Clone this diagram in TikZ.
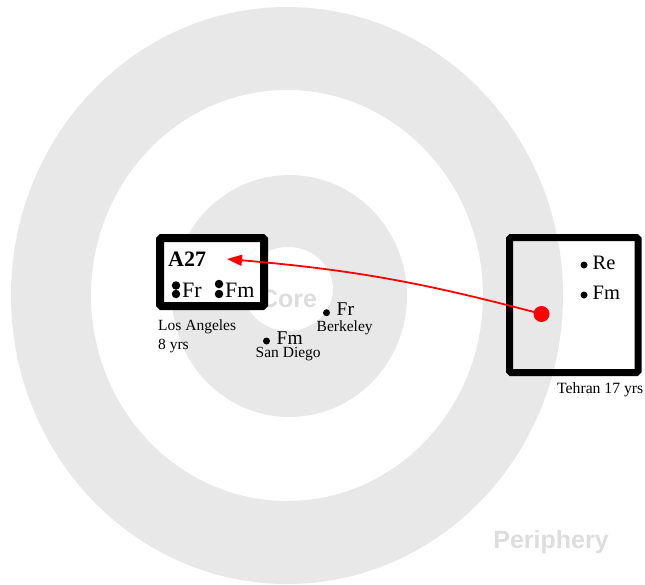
\documentclass[tikz,border=0pt]{standalone}
\usepackage{fontspec}
\setmainfont{Liberation Serif}
\newfontfamily\lsans{Liberation Sans}
\usetikzlibrary{arrows.meta}
\definecolor{ringgray}{RGB}{232,232,232}
\definecolor{labelgray}{RGB}{221,221,221}
\definecolor{pureRed}{RGB}{255,0,0}
\tikzset{
  fs/.style={font=\fontsize{#1}{#1}\selectfont},
  txt/.style={inner sep=0pt, anchor=base west},
  dotnode/.style={circle, fill=black, inner sep=0pt, minimum size=#1},
  dotnode/.default=7pt,
  boxnode/.style={draw=black, line width=#1, rounded corners=1.5pt, inner sep=0pt},
  bigword/.style={inner sep=0pt, anchor=base, text=labelgray, font=\lsans\bfseries\fontsize{25}{25}\selectfont},
  reddot/.style={circle, fill=pureRed, inner sep=0pt, minimum size=16pt},
  movearrow/.style={draw=pureRed, line width=1.8pt, -{Triangle[length=15pt,width=11pt]}}
}
\begin{document}
\begin{tikzpicture}[x=1pt,y=1pt]
\useasboundingbox (0,0) rectangle (645,-584);
% rings
\fill[ringgray, even odd rule] (287,-295.5) ellipse [x radius=276, y radius=288.5]
                               (287,-295.5) ellipse [x radius=196, y radius=205.5];
\fill[ringgray, even odd rule] (289.5,-296) ellipse [x radius=117.5, y radius=121]
                               (288,-289) ellipse [x radius=45, y radius=42];
\node[bigword] (core) at (288.5,-307) {Core};
\node[bigword] (periph) at (551,-548) {Periphery};
% A27 box
\node[boxnode=8pt, fill=white, minimum width=104pt, minimum height=68pt] (a27box) at (212,-272) {};
\node[txt, font=\bfseries\fontsize{22}{22}\selectfont] (a27) at (168,-266) {A27};
\node[dotnode=8.5pt] (d1) at (176,-285.5) {};
\node[dotnode=8.5pt] (d2) at (176,-294) {};
\node[txt, fs=22] (fr1) at (182,-297.5) {Fr};
\node[dotnode=8.5pt] (d3) at (219,-284) {};
\node[dotnode=8.5pt] (d4) at (219,-294) {};
\node[txt, fs=22] (fm1) at (225,-297.5) {Fm};
\node[txt, fs=15.5] (la) at (158,-330) {Los Angeles};
\node[txt, fs=15.5] (la2) at (158,-349) {8 yrs};
% San Diego
\node[dotnode] (sdd) at (266.5,-341) {};
\node[txt, fs=19.5] (sdfm) at (276.5,-344) {Fm};
\node[txt, fs=15.5] (sd) at (255.5,-357.5) {San Diego};
% Berkeley
\node[dotnode] (bkd) at (326.5,-312.7) {};
\node[txt, fs=19.5] (bkfr) at (336.5,-315.7) {Fr};
\node[txt, fs=15.5] (bk) at (316.5,-331.5) {Berkeley};
% Tehran box
\node[boxnode=7pt, minimum width=128.5pt, minimum height=135pt] (tbox) at (573.75,-305) {};
\node[dotnode] (td1) at (584,-265) {};
\node[txt, fs=20.5] (tre) at (592.5,-269) {Re};
\node[dotnode] (td2) at (584,-295) {};
\node[txt, fs=20.5] (tfm) at (592.5,-299) {Fm};
\node[txt, fs=15.7] (teh) at (557,-393) {Tehran 17 yrs};
% arrow
\node[reddot] (rd) at (541.5,-314) {};
\coordinate (tip) at (227,-259);
\draw[movearrow] (rd.center) to[bend right=5] (tip);
\end{tikzpicture}
\end{document}
